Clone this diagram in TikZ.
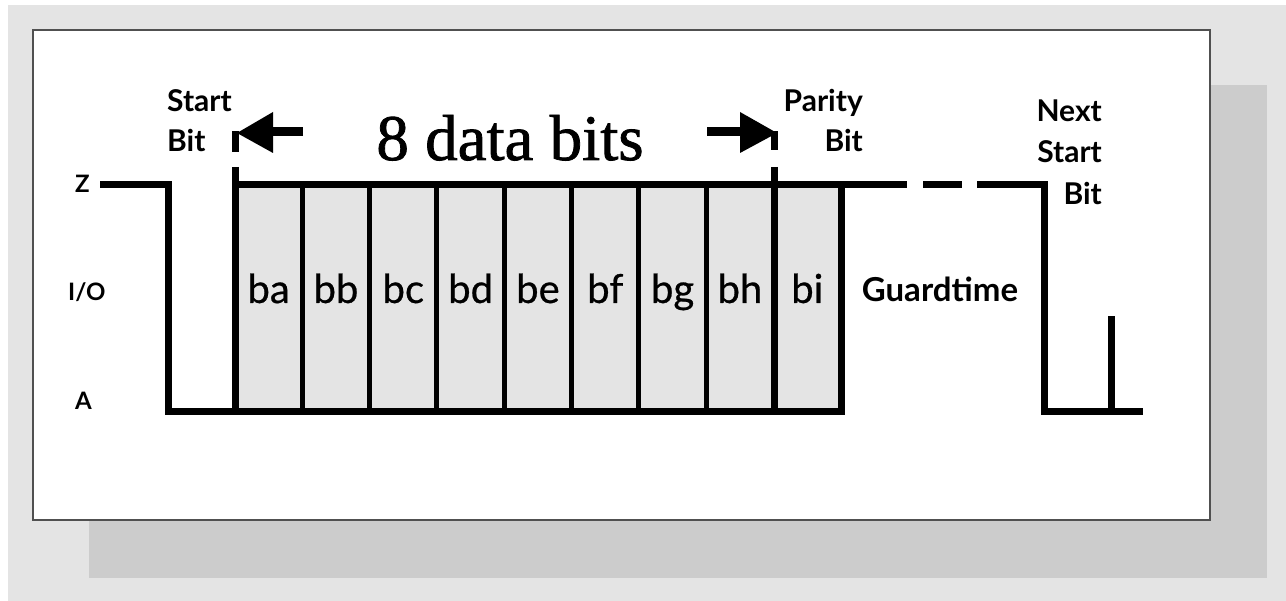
\documentclass[tikz,border=0pt]{standalone}
\usepackage{fontspec}
\setmainfont{Liberation Serif}
\newfontfamily\labelfont{Lato}
\newfontfamily\bitfont[FakeBold=0.6]{Lato}
\newfontfamily\titlefont[FakeBold=1.2]{Liberation Serif}
\definecolor{outergray}{HTML}{E4E4E4}
\definecolor{shadowgray}{HTML}{CCCCCC}
\definecolor{boxedge}{HTML}{505050}
\definecolor{cellgray}{HTML}{E4E4E4}
\tikzset{
  sig/.style={line width=7pt, line join=miter},
  divider/.style={line width=5pt},
  bitlbl/.style={font=\bitfont\fontsize{40}{42}\selectfont, anchor=base, inner sep=0pt},
  caption/.style={font=\labelfont\bfseries\fontsize{30}{34}\selectfont, inner sep=0pt},
  level/.style={font=\labelfont\bfseries\fontsize{24}{28}\selectfont, inner sep=0pt, anchor=base west},
  headtip/.style={fill=black, draw=none}
}
\begin{document}
\begin{tikzpicture}[x=1pt,y=-1pt]
% page, drop shadow and white panel
\useasboundingbox (0,0) rectangle (1286,601);
\fill[white] (0,0) rectangle (1286,601);
\fill[outergray] (8,5) rectangle (1286,601);
\fill[shadowgray] (89,85) rectangle (1267,578);
\filldraw[fill=white, draw=boxedge, line width=2pt] (33,30) rectangle (1210,520);

% shaded data-bit region
\fill[cellgray] (235,185) rectangle (841,412);

% cell dividers
\foreach \k in {1,...,7} {
  \draw[divider] ({235+67.33*\k},185) -- ({235+67.33*\k},412);
}
\draw[sig] (774,167) -- (774,412);

% waveform
\draw[sig] (100,185) -| (168,412) -- (841,412) |- (907,185);
\draw[sig] (235,185) -- (841,185);
\draw[sig] (235,167) -- (235,412);
\draw[sig] (923,185) -- (962,185);
\draw[sig] (977,185) -| (1044,412) -- (1143,412);
\draw[sig] (1111,412) -- (1111,316);

% brackets and arrows around the data bits
\draw[sig] (235,152) -- (235,131);
\draw[line width=9pt] (303,132) -- (268,132);
\fill[headtip] (273,112) -- (237,133) -- (273,153) -- cycle;
\draw[sig] (774,150) -- (774,131);
\draw[line width=9pt] (707,132) -- (745,132);
\fill[headtip] (740,112) -- (777,133) -- (740,153) -- cycle;

% title
\node[font=\titlefont\fontsize{65}{70}\selectfont, anchor=base, inner sep=0pt] (title) at (510,160) {8 data bits};

% level labels
\node[level] (lz) at (75,193) {Z};
\node[level] (lio) at (68,301) {I/O};
\node[level] (la) at (75,410) {A};

% bit labels
\foreach \t [count=\i from 0] in {ba,bb,bc,bd,be,bf,bg,bh,bi} {
  \node[bitlbl] (bit\i) at ({235+67.33*(\i+0.5)},303) {\t};
}

% captions
\node[caption, anchor=base west] (startA) at (167,112) {Start};
\node[caption, anchor=base west] (startB) at (167,152) {Bit};
\node[caption, anchor=base east] (parA) at (863,112) {Parity};
\node[caption, anchor=base east] (parB) at (863,152) {Bit};
\node[caption, anchor=base east] (nextA) at (1102,122) {Next};
\node[caption, anchor=base east] (nextB) at (1102,163) {Start};
\node[caption, anchor=base east] (nextC) at (1102,205) {Bit};
\node[caption, anchor=base, font=\labelfont\bfseries\fontsize{33}{36}\selectfont] (guard) at (940,302) {Guardtime};
\end{tikzpicture}
\end{document}
